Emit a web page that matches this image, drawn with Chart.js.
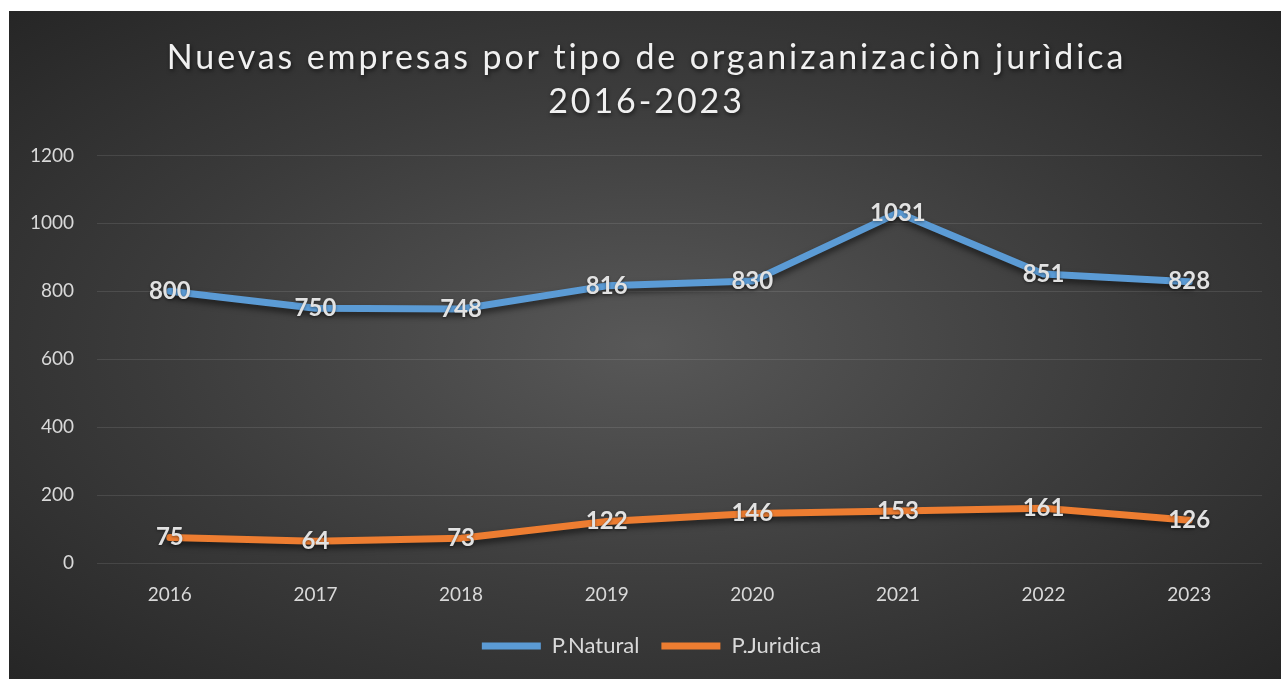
<!DOCTYPE html>
<html lang="es">
<head>
  <meta charset="UTF-8">
  <title>Nuevas empresas por tipo de organización jurídica</title>
  <style>
    html, body {
      margin: 0;
      padding: 0;
      background: #ffffff;
    }
    .chart-box {
      position: absolute;
      left: 9px;
      top: 11px;
      width: 1272px;
      height: 668px;
      background: radial-gradient(ellipse at 50% 50%, #585858 0%, #3b3b3b 55%, #262626 100%);
    }
  </style>
  <script src="https://cdn.jsdelivr.net/npm/chart.js"></script>
</head>
<body>

<div class="chart-box">
  <canvas id="chart" width="1272" height="668"></canvas>
</div>

<script>
const years = ["2016", "2017", "2018", "2019", "2020", "2021", "2022", "2023"];
const natural = [800, 750, 748, 816, 830, 1031, 851, 828];
const juridica = [75, 64, 73, 122, 146, 153, 161, 126];
const titleLines = ["Nuevas empresas por tipo de organizanizaciòn jurìdica", "2016-2023"];

const textColor = "#d9d9d9";

// wrap a layout box's draw so it can be nudged / styled
function patchBox(chart, box, setup) {
  if (!box || box._patched) return;
  const orig = box.draw.bind(box);
  box.draw = function (area) {
    const ctx = chart.ctx;
    ctx.save();
    setup(ctx);
    orig(area);
    ctx.restore();
  };
  box._patched = true;
}

const boxTweaks = {
  id: "boxTweaks",
  beforeDraw(chart) {
    // title: wide letter spacing and a soft shadow
    patchBox(chart, chart.titleBlock, (ctx) => {
      ctx.translate(11, 0);
      ctx.letterSpacing = "2.9px";
      ctx.shadowColor = "rgba(0,0,0,0.6)";
      ctx.shadowBlur = 4;
      ctx.shadowOffsetX = 1;
      ctx.shadowOffsetY = 2;
    });
    // legend sits a bit right of centre in the original
    patchBox(chart, chart.legend, (ctx) => {
      ctx.translate(16, 0);
    });
  }
};

// shadow under the lines
const lineShadow = {
  id: "lineShadow",
  beforeDatasetDraw(chart) {
    const ctx = chart.ctx;
    ctx.save();
    ctx.shadowColor = "rgba(0,0,0,0.55)";
    ctx.shadowBlur = 6;
    ctx.shadowOffsetY = 4;
  },
  afterDatasetDraw(chart) {
    chart.ctx.restore();
  }
};

// value labels centred on each point
const valueLabels = {
  id: "valueLabels",
  afterDatasetsDraw(chart) {
    const ctx = chart.ctx;
    ctx.save();
    ctx.font = "bold 24px Lato";
    ctx.fillStyle = "#e2e2e2";
    ctx.textAlign = "center";
    ctx.textBaseline = "middle";
    ctx.shadowColor = "rgba(0,0,0,0.45)";
    ctx.shadowBlur = 3;
    ctx.shadowOffsetY = 1;
    chart.data.datasets.forEach((ds, i) => {
      chart.getDatasetMeta(i).data.forEach((pt, j) => {
        ctx.fillText(String(ds.data[j]), pt.x, pt.y);
      });
    });
    ctx.restore();
  }
};

new Chart(document.getElementById("chart"), {
  type: "line",
  data: {
    labels: years,
    datasets: [{
      label: "P.Natural",
      data: natural,
      borderColor: "#5b9bd5",
      backgroundColor: "#5b9bd5",
      borderWidth: 7,
      borderCapStyle: "round",
      borderJoinStyle: "round",
      pointRadius: 0,
      tension: 0
    }, {
      label: "P.Juridica",
      data: juridica,
      borderColor: "#ed7d31",
      backgroundColor: "#ed7d31",
      borderWidth: 7,
      borderCapStyle: "round",
      borderJoinStyle: "round",
      pointRadius: 0,
      tension: 0
    }]
  },
  options: {
    responsive: false,
    animation: false,
    layout: {
      padding: { left: 0, right: 19, top: 0, bottom: 12 }
    },
    plugins: {
      title: {
        display: true,
        text: titleLines,
        color: "#f0f0f0",
        font: { family: "Lato", size: 34, weight: "normal", lineHeight: 1.3 },
        padding: { top: 25, bottom: 31 }
      },
      legend: {
        position: "bottom",
        labels: {
          color: textColor,
          font: { family: "Lato", size: 22 },
          usePointStyle: true,
          pointStyle: "line",
          pointStyleWidth: 59,
          padding: 22
        }
      },
      tooltip: { enabled: false }
    },
    scales: {
      x: {
        offset: true,
        grid: { display: false },
        border: { display: false },
        ticks: {
          color: textColor,
          font: { family: "Lato", size: 19 },
          padding: 12
        },
        afterFit(scale) { scale.height = 50; }
      },
      y: {
        min: 0,
        max: 1200,
        ticks: {
          stepSize: 200,
          color: textColor,
          font: { family: "Lato", size: 19 },
          padding: 23,
          callback: (v) => String(v)
        },
        grid: {
          color: "rgba(255,255,255,0.1)",
          lineWidth: 1,
          drawTicks: false
        },
        border: { display: false },
        afterFit(scale) { scale.width = 88; }
      }
    }
  },
  plugins: [boxTweaks, lineShadow, valueLabels]
});
</script>

</body>
</html>
